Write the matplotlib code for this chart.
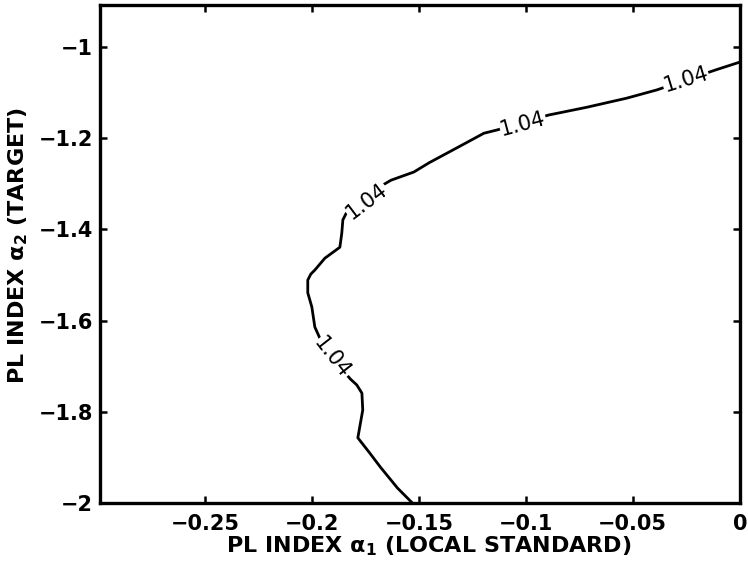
import numpy as np
import matplotlib
matplotlib.use('Agg')
import matplotlib.pyplot as plt

plt.rcParams['font.family'] = ['DejaVu Sans']
plt.rcParams['mathtext.fontset'] = 'custom'
plt.rcParams['mathtext.rm'] = 'DejaVu Sans:bold'
plt.rcParams['mathtext.it'] = 'DejaVu Sans:bold'

# contour line 1.04 (bottom to top)
alpha1 = [-0.153, -0.160, -0.168, -0.173, -0.1785, -0.1776, -0.1762, -0.1766,
          -0.179, -0.182, -0.188, -0.194, -0.1986, -0.200, -0.2019, -0.2019,
          -0.2005, -0.1986, -0.1939, -0.1869, -0.186, -0.1855, -0.184,
          -0.175, -0.163, -0.1523, -0.1453, -0.1322, -0.1196, -0.1136,
          -0.101, -0.0893, -0.0715, -0.0528, -0.0388, -0.025, -0.0112, 0.0]
alpha2 = [-2.0, -1.967, -1.921, -1.890, -1.857, -1.833, -1.796, -1.759,
          -1.741, -1.728, -1.695, -1.662, -1.614, -1.570, -1.539, -1.511,
          -1.498, -1.489, -1.463, -1.439, -1.408, -1.379, -1.365,
          -1.325, -1.292, -1.274, -1.254, -1.221, -1.189, -1.182,
          -1.165, -1.149, -1.132, -1.112, -1.094, -1.072, -1.050, -1.033]

# clabel positions (x, y, angle)
lab_x = [-0.1905, -0.1742, -0.1013, -0.0252]
lab_y = [-1.682, -1.338, -1.169, -1.072]
lab_rot = [-52, 37, 15, 17]
lab_text = '1.04'

xticks = [-0.25, -0.2, -0.15, -0.1, -0.05, 0]
xticklabels = ['\u22120.25', '\u22120.2', '\u22120.15', '\u22120.1', '\u22120.05', '0']
yticks = [-2, -1.8, -1.6, -1.4, -1.2, -1]
yticklabels = ['\u22122', '\u22121.8', '\u22121.6', '\u22121.4', '\u22121.2', '\u22121']

fig = plt.figure(figsize=(7.48, 5.70), dpi=100)
ax = fig.add_axes([0.1337, 0.1175, 0.8553, 0.8735])

ax.plot(alpha1, alpha2, color='black', lw=2.0, solid_joinstyle='round')
for x, y, r in zip(lab_x, lab_y, lab_rot):
    ax.text(x, y, lab_text, rotation=r, rotation_mode='anchor',
            ha='center', va='center', fontsize=15,
            bbox=dict(facecolor='white', edgecolor='none', pad=0.3))

ax.set_xlim(-0.299, 0)
ax.set_ylim(-2, -0.908)
ax.set_xticks(xticks)
ax.set_xticklabels(xticklabels)
ax.set_yticks(yticks)
ax.set_yticklabels(yticklabels)
ax.tick_params(direction='in', length=5, width=1.8, top=True, right=True,
               labelsize=15)
ax.tick_params(axis='x', pad=8)
ax.tick_params(axis='y', pad=5)
for lbl in ax.get_xticklabels() + ax.get_yticklabels():
    lbl.set_fontweight('bold')
for s in ax.spines.values():
    s.set_linewidth(2.4)

ax.set_xlabel('PL INDEX \u03b1$_1$ (LOCAL STANDARD)', fontsize=16,
              fontweight='bold')
ax.set_ylabel('PL INDEX \u03b1$_2$ (TARGET)', fontsize=16,
              fontweight='bold')
ax.xaxis.set_label_coords(0.514, -0.064)
ax.yaxis.set_label_coords(-0.109, 0.518)

fig.savefig('out.png', dpi=100)
